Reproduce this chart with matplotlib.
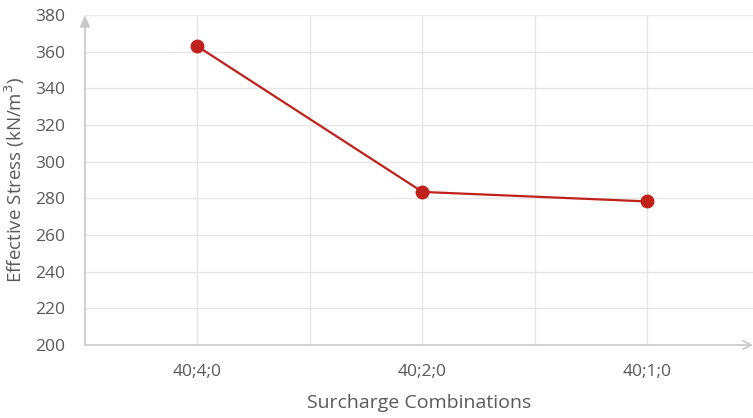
import matplotlib.pyplot as plt

plt.rcParams['font.family'] = ['Open Sans', 'DejaVu Sans']

# Effective stress for each surcharge combination
combinations = ["40;4;0", "40;2;0", "40;1;0"]
stress = [362.9, 283.5, 278.3]
y_ticks = [200, 220, 240, 260, 280, 300, 320, 340, 360, 380]

grid_col = "#e6e6e6"
axis_col = "#c8c8c8"
text_col = "#595959"
line_col = "#c0211b"

fig = plt.figure(figsize=(7.53, 4.18), dpi=100)
ax = fig.add_axes([85 / 753, 1 - 345 / 418, 668 / 753, 330 / 418])

x = list(range(len(combinations)))
ax.plot(x, stress, color=line_col, lw=1.6, marker="o", ms=9,
        zorder=3, clip_on=False)

ax.set_xlim(-0.5, 2.469)
ax.set_ylim(200, 380)
ax.set_yticks(y_ticks)
ax.set_xticks(x)
ax.set_xticklabels(combinations)

# gridlines on categories and halfway between them
for gx in [0, 0.5, 1, 1.5, 2]:
    ax.axvline(gx, color=grid_col, lw=1, zorder=0)
for gy in y_ticks[1:]:
    ax.axhline(gy, color=grid_col, lw=1, zorder=0)

for s in ax.spines.values():
    s.set_visible(False)

# axis lines: filled head on y, open head on x
ax.annotate("", xy=(0, 1.0), xytext=(0, 0), xycoords="axes fraction",
            arrowprops=dict(arrowstyle="-|>,head_length=0.7,head_width=0.3",
                            color=axis_col, lw=1.2,
                            shrinkA=0, shrinkB=0))
ax.annotate("", xy=(1.0, 0), xytext=(0, 0), xycoords="axes fraction",
            arrowprops=dict(arrowstyle="->,head_length=0.6,head_width=0.3",
                            color=axis_col, lw=1.2,
                            shrinkA=0, shrinkB=0))

ax.tick_params(axis="both", length=0, colors=text_col, labelsize=12.5)
ax.tick_params(axis="y", pad=14)
ax.tick_params(axis="x", pad=14)

ax.set_ylabel("Effective Stress (kN/m$^3$)", color=text_col, fontsize=13.5,
              labelpad=6)
ax.set_xlabel("Surcharge Combinations", color=text_col, fontsize=14,
              labelpad=10)

fig.savefig("out.png", dpi=100)
